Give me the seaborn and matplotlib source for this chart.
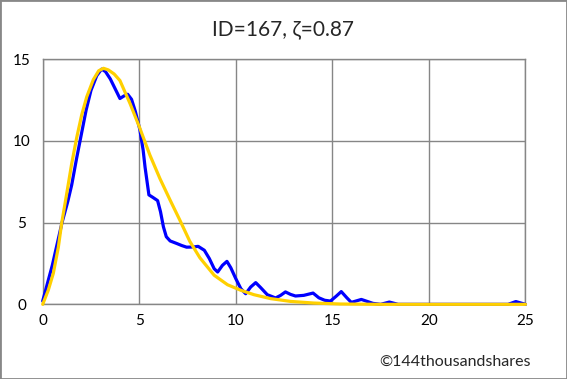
import matplotlib
matplotlib.use("Agg")
import matplotlib.pyplot as plt
import matplotlib.patches as mpatches
import seaborn as sns

# observed curve (blue)
blue_x = [0, 0.5, 1.0, 1.3, 1.5, 1.75, 2.0, 2.25, 2.5, 2.8, 3.05, 3.25, 3.5, 3.75, 4.0, 4.2,
          4.4, 4.6, 4.8, 5.03, 5.2, 5.3, 5.5, 5.7, 5.95, 6.1, 6.25, 6.4, 6.6, 6.93, 7.2, 7.45,
          7.8, 8.05, 8.37, 8.63, 8.88, 9.06, 9.31, 9.54, 9.74, 10.0, 10.26, 10.51, 10.77,
          11.03, 11.29, 11.63, 12.06, 12.32, 12.57, 12.83, 13.09, 13.52, 14.0, 14.3, 14.6,
          14.9, 15.2, 15.46, 15.75, 15.98, 16.5, 17.1, 17.5, 17.95, 18.4, 24.1, 24.5, 25]
blue_y = [0.2, 2.4, 5.0, 6.3, 7.3, 8.9, 10.4, 11.9, 13.1, 14.0, 14.4, 14.25, 13.8, 13.2, 12.6,
          12.75, 12.86, 12.55, 11.8, 10.7, 9.45, 8.4, 6.7, 6.55, 6.35, 5.67, 4.75, 4.14, 3.88,
          3.73, 3.6, 3.5, 3.51, 3.55, 3.31, 2.8, 2.18, 1.98, 2.39, 2.63, 2.24, 1.57, 0.96,
          0.65, 1.06, 1.33, 1.02, 0.59, 0.39, 0.55, 0.76, 0.61, 0.51, 0.55, 0.69, 0.4, 0.25,
          0.2, 0.5, 0.78, 0.4, 0.12, 0.3, 0.06, 0.0, 0.14, 0.0, 0.0, 0.17, 0.0]

# fitted curve (yellow)
fit_x = [0, 0.29, 0.55, 0.81, 0.98, 1.24, 1.5, 1.76, 2.02, 2.28, 2.62, 2.9, 3.15, 3.4, 3.7,
         4.0, 4.52, 5.0, 5.55, 6.07, 6.59, 7.1, 7.62, 8.14, 8.88, 9.57, 10.26, 10.94, 11.8,
         12.83, 14.03, 15.4, 17.5, 20, 25]
fit_y = [0, 0.87, 1.9, 3.5, 4.94, 6.75, 8.6, 10.2, 11.6, 12.7, 13.75, 14.3, 14.45, 14.35,
         14.1, 13.7, 12.3, 10.88, 9.14, 7.7, 6.4, 5.16, 3.85, 2.85, 1.78, 1.2, 0.86, 0.59,
         0.35, 0.18, 0.08, 0.02, 0, 0, 0]

sns.set_style("white")
plt.rcParams['font.family'] = ['Lato', 'DejaVu Sans']

fig = plt.figure(figsize=(5.67, 3.79), dpi=100)
ax = fig.add_axes([0.0753, 0.197, 0.8515, 0.6465])

sns.lineplot(x=blue_x, y=blue_y, ax=ax, color='#0000FF', lw=2.3, sort=False, zorder=3)
sns.lineplot(x=fit_x, y=fit_y, ax=ax, color='#FFD000', lw=2.3, sort=False, zorder=4)
for ln in ax.lines:
    ln.set_clip_on(False)
    ln.set_solid_joinstyle('round')

ax.set_xlim(0, 25)
ax.set_ylim(0, 15)
ax.set_xticks([0, 5, 10, 15, 20, 25])
ax.set_yticks([0, 5, 10, 15])
ax.grid(True, color='#868686', lw=1)
for s in ax.spines.values():
    s.set_color('#868686')
    s.set_linewidth(1)
ax.tick_params(length=0, labelsize=11, colors='black')
ax.tick_params(axis='y', pad=15)
ax.tick_params(axis='x', pad=7)
for lab in ax.get_yticklabels():
    lab.set_horizontalalignment('center')

fig.suptitle('ID=167, ζ=0.87', y=0.95, fontsize=15)
fig.text(0.803, 0.045, '©144thousandshares', ha='center', va='center', fontsize=11.5)

fig.add_artist(mpatches.Rectangle((0, 0), 1, 1, transform=fig.transFigure, fill=False,
                                  edgecolor='#888888', lw=2))

fig.savefig('out.png', dpi=100)
